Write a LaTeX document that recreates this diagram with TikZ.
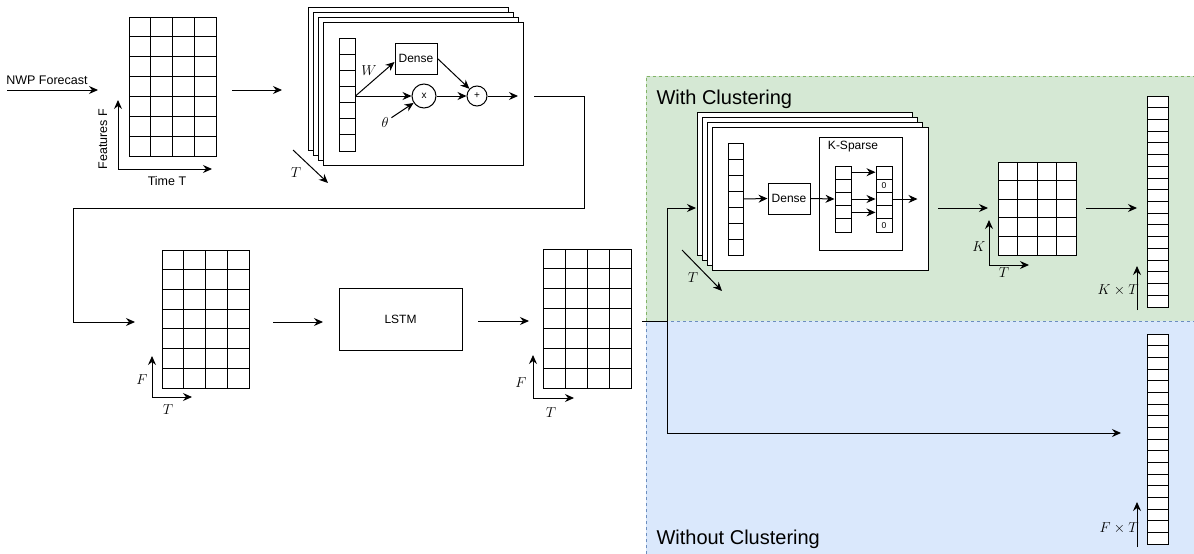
\documentclass[tikz,border=0pt]{standalone}
\usepackage{fontspec}
\setmainfont{Liberation Sans}
\usetikzlibrary{arrows.meta,calc}

\definecolor{clusterfill}{HTML}{D5E8D4}
\definecolor{clusterline}{HTML}{82B366}
\definecolor{plainfill}{HTML}{DAE8FC}
\definecolor{plainline}{HTML}{6C8EBF}

\tikzset{
  cells/.style 2 args={draw, fill=white, inner sep=0pt, path picture={
      \foreach \c in {1,...,#1}
        \draw ($(path picture bounding box.south west)!\c/#1!(path picture bounding box.south east)$) -- ($(path picture bounding box.north west)!\c/#1!(path picture bounding box.north east)$);
      \foreach \r in {1,...,#2}
        \draw ($(path picture bounding box.south west)!\r/#2!(path picture bounding box.north west)$) -- ($(path picture bounding box.south east)!\r/#2!(path picture bounding box.north east)$);
  }},
}

\begin{document}
\begin{tikzpicture}[x=1pt, y=-1pt, line width=1pt,
  arr/.style={-{Stealth[length=9pt,width=8pt,inset=3pt]}},
  box/.style={draw, fill=white, inner sep=0pt, font=\fontsize{12}{14}\selectfont},
  op/.style={draw, circle, fill=white, inner sep=0pt, font=\fontsize{10}{11}\selectfont},
  sheet/.style={draw, fill=white},
  lbl/.style={font=\fontsize{12.5}{14}\selectfont, inner sep=0pt},
  mlbl/.style={font=\fontsize{14}{16}\selectfont, inner sep=0pt},
  region/.style={font=\fontsize{20}{23}\selectfont, inner sep=0pt, anchor=west},
]
\useasboundingbox (0,0) rectangle (1194,554);

\fill[clusterfill] (646,76) rectangle (1194,321);
\fill[plainfill] (646,321) rectangle (1194,554);
\draw[clusterline, dash pattern=on 3pt off 3pt] (646,321) -- (646,76) -- (1194,76);
\draw[plainline, dash pattern=on 3pt off 3pt] (646,554) -- (646,321) -- (1194,321);
\node[region] (withcl) at (656,99) {With Clustering};
\node[region] (withoutcl) at (656,539) {Without Clustering};

\node[lbl] (nwp) at (47,80) {NWP Forecast};
\coordinate (nwpin) at (7,90);
\coordinate (nwpout) at (98,90);
\draw[arr] (nwpin) -- (nwpout);

\node[cells={4}{7}, minimum width=87, minimum height=139] (feat) at (172.5,86.5) {};
\coordinate (featorig) at (118,169);
\draw[arr] (featorig) -- ++(0,-69);
\draw[arr] (featorig) -- ++(94,0);
\node[lbl, rotate=90] (featF) at (103,139) {Features F};
\node[lbl] (timeT) at (167,181) {Time T};

\coordinate (featout) at (232,90);
\coordinate (gatein) at (282,90);
\draw[arr] (featout) -- (gatein);

\foreach \k in {0,...,3}
  \draw[sheet] (308+5*\k,7+5.3*\k) rectangle ++(200,143);
\node[cells={1}{7}, minimum width=16, minimum height=113] (emb) at (347,94.5) {};
\node[box, minimum width=42, minimum height=31] (dense) at (416,58.5) {Dense};
\node[op, minimum size=24] (mul) at (424,96) {x};
\node[op, minimum size=20] (add) at (477,96) {+};
\draw[arr] (emb.east |- mul) -- (mul);
\draw[arr] (emb.east |- mul) -- ($(dense.west)+(0,3.5)$);
\node[mlbl] (wlbl) at (369,71) {$W$};
\draw[arr] (dense.east) -- (add);
\draw[arr] (mul) -- (add);
\coordinate (gateout) at (518,96);
\draw[arr] (add) -- (gateout);
\node[mlbl] (theta) at (385,122) {$\theta$};
\draw[arr, shorten <=3pt] (theta) -- (mul);
\coordinate (gateT) at (293,150);
\draw[arr] (gateT) -- ++(35,33);
\node[mlbl] (gateTlbl) at (296,173) {$T$};

\coordinate (gateroute) at (534,96);
\coordinate (encin) at (135,322);
\draw[arr] (gateroute) -- (584,96) -- (584,208) -- (73,208) -- (73,322) -- (encin);

\node[cells={4}{7}, minimum width=87, minimum height=138] (enc) at (205.5,319) {};
\coordinate (encorig) at (152,397);
\draw[arr] (encorig) -- ++(0,-41);
\draw[arr] (encorig) -- ++(40,0);
\node[mlbl] (encF) at (142,380) {$F$};
\node[mlbl] (encT) at (168,410) {$T$};

\coordinate (encout) at (273,322);
\coordinate (lstmin) at (323,322);
\draw[arr] (encout) -- (lstmin);
\node[box, minimum width=123, minimum height=62] (lstm) at (400.5,319) {LSTM};
\coordinate (lstmout) at (478,321);
\coordinate (hidin) at (529,321);
\draw[arr] (lstmout) -- (hidin);

\node[cells={4}{7}, minimum width=88, minimum height=139] (hid) at (587,318.5) {};
\coordinate (hidorig) at (533,398);
\draw[arr] (hidorig) -- ++(0,-43);
\draw[arr] (hidorig) -- ++(41,0);
\node[mlbl] (hidF) at (521,383) {$F$};
\node[mlbl] (hidT) at (551,413) {$T$};

\coordinate (splitin) at (642,321);
\coordinate (split) at (667,321);
\coordinate (clusterin) at (696,208);
\coordinate (plainin) at (1121,433);
\draw (splitin) -- (split);
\draw[arr] (split) |- (clusterin);
\draw[arr] (split) |- (plainin);

\foreach \k in {0,...,3}
  \draw[sheet] (697+5.33*\k,112+5.33*\k) rectangle ++(215,143);
\node[cells={1}{7}, minimum width=15, minimum height=112] (stackvec) at (735.5,199) {};
\node[box, minimum width=42, minimum height=31] (dense2) at (789,198.5) {Dense};
\node[draw, fill=white, minimum width=83, minimum height=113, inner sep=0pt] (ksparse) at (860.5,193.5) {};
\node[lbl, font=\fontsize{12}{14}\selectfont] (ksparselbl) at (853,147) {K-Sparse};
\node[cells={1}{5}, minimum width=16, minimum height=66] (vec1) at (843,199) {};
\node[cells={1}{5}, minimum width=16, minimum height=66] (vec2) at (884,199) {};
\node[font=\fontsize{8.5}{9}\selectfont, inner sep=0pt] (zero1) at ($(vec2.north)!0.3!(vec2.south)$) {0};
\node[font=\fontsize{8.5}{9}\selectfont, inner sep=0pt] (zero2) at ($(vec2.north)!0.9!(vec2.south)$) {0};
\draw[arr] (stackvec.east) -- (dense2.west);
\draw[arr] (dense2.east) -- (vec1.west);
\foreach \r in {1,3,4}
  \draw[arr] ($(vec1.north east)!\r/5-0.1!(vec1.south east)$) -- ($(vec2.north west)!\r/5-0.1!(vec2.south west)$);
\draw[arr] (vec2.east) -- ++(25,0);
\coordinate (clusterT) at (682,250);
\draw[arr] (clusterT) -- ++(40,41);
\node[mlbl] (clusterTlbl) at (693,278) {$T$};

\coordinate (stackout) at (938,208);
\coordinate (centin) at (988,208);
\draw[arr] (stackout) -- (centin);
\node[cells={4}{5}, minimum width=78, minimum height=93] (cent) at (1037,208.5) {};
\coordinate (centorig) at (989,265);
\draw[arr] (centorig) -- ++(0,-45);
\draw[arr] (centorig) -- ++(40,0);
\node[mlbl] (centK) at (979,247) {$K$};
\node[mlbl] (centT) at (1004,273) {$T$};

\coordinate (centout) at (1086,208);
\coordinate (flatin) at (1137,208);
\draw[arr] (centout) -- (flatin);
\node[cells={1}{18}, minimum width=21, minimum height=211] (flatK) at (1157.5,201.5) {};
\coordinate (flatKorig) at (1137,310);
\draw[arr] (flatKorig) -- ++(0,-44);
\node[mlbl, anchor=east] (flatKlbl) at (1139,290) {$K\times T$};

\node[cells={1}{18}, minimum width=21, minimum height=210] (flatF) at (1157.5,439) {};
\coordinate (flatForig) at (1137,547);
\draw[arr] (flatForig) -- ++(0,-45);
\node[mlbl, anchor=east] (flatFlbl) at (1139,528) {$F\times T$};
\end{tikzpicture}
\end{document}
